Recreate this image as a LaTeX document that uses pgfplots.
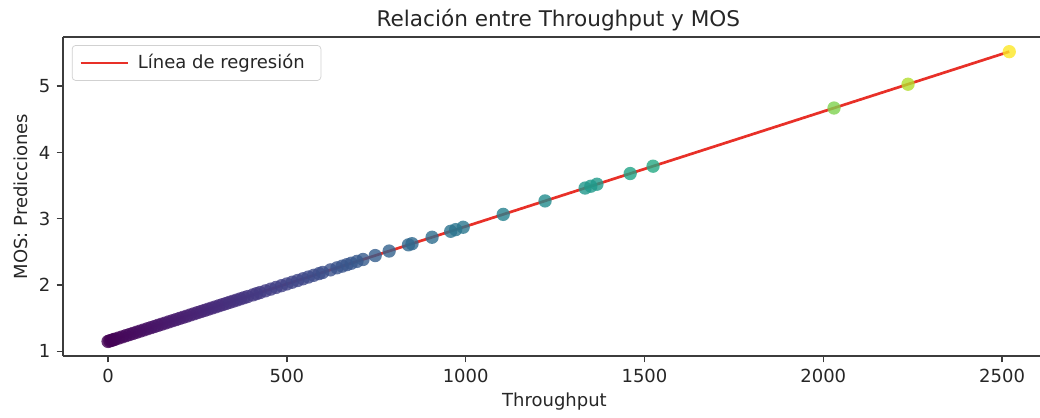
\documentclass[border=0pt]{standalone}
\usepackage{fontspec}
\setmainfont{DejaVu Sans}
\usepackage{pgfplots}
\pgfplotsset{compat=1.18}
\definecolor{regred}{RGB}{232,48,40}
\definecolor{spine}{RGB}{60,60,60}
\pgfplotsset{regleg/.style={legend image code/.code={\draw[##1] (-2pt,0pt) -- (24pt,0pt);}}}

\begin{document}
\begin{tikzpicture}
\begin{axis}[
  at={(0,0)}, anchor=south west,
  scale only axis, width=542.8pt, height=177.2pt,
  xmin=-126, xmax=2606, ymin=0.93, ymax=5.74,
  axis x line*=box, axis y line*=left,
  axis line style={spine, line width=0.8pt},
  tick pos=left, tick align=outside,
  major tick length=3.5pt,
  every tick/.style={spine, line width=0.8pt},
  xtick={0,500,1000,1500,2000,2500},
  ytick={1,2,3,4,5},
  /pgf/number format/assume math mode=true,
  /pgf/number format/set thousands separator={},
  tick label style={font=\fontsize{10}{12}\selectfont, text=black!85},
  xlabel={Throughput}, ylabel={MOS: Predicciones},
  label style={font=\fontsize{10}{12}\selectfont, text=black!85},
  xlabel style={at={(axis description cs:0.503,0)}, anchor=north, yshift=-17pt},
  ylabel style={at={(axis description cs:0,0.5)}, anchor=south, yshift=16pt},
  title={Relación entre Throughput y MOS},
  title style={at={(axis description cs:0.507,1)}, anchor=south, yshift=-6pt,
    font=\fontsize{12}{14}\selectfont, text=black!85},
  colormap name=viridis,
  legend style={at={(axis description cs:0.009,0.975)}, anchor=north west,
    draw=black!18, rounded corners=2pt, fill=white, fill opacity=0.8, text opacity=1,
    font=\fontsize{10}{12}\selectfont, text=black!85,
    inner xsep=4pt, inner ysep=3pt,
    nodes={inner xsep=5pt}},
  legend cell align=left,
]
\addplot[scatter, only marks, mark=*, mark size=3.7pt, point meta=y,
  scatter/use mapped color={draw opacity=0, fill=mapped color},
  fill opacity=0.8, forget plot]
  coordinates {
  (0,1.150) (5,1.159) (10,1.167) (15,1.176) (20,1.185) (30,1.202) (40,1.219)
  (50,1.237) (60,1.254) (70,1.271) (80,1.289) (90,1.306) (100,1.323) (110,1.341)
  (120,1.358) (130,1.375) (140,1.393) (150,1.410) (160,1.427) (170,1.445)
  (180,1.462) (190,1.479) (200,1.497) (210,1.514) (220,1.531) (230,1.549)
  (240,1.566) (250,1.584) (260,1.601) (270,1.618) (280,1.636) (290,1.653)
  (300,1.670) (310,1.688) (320,1.705) (330,1.722) (340,1.740) (350,1.757)
  (360,1.774) (370,1.792) (380,1.809) (390,1.826)
  (405,1.852) (415,1.870) (425,1.887) (440,1.913) (455,1.939) (470,1.965)
  (485,1.991) (500,2.017) (515,2.043) (530,2.069) (545,2.095) (560,2.121)
  (575,2.147) (590,2.173) (600,2.190)
  (622,2.229) (640,2.260) (655,2.286) (668,2.308) (680,2.329) (696,2.357)
  (713,2.386) (747,2.445) (786,2.513) (840,2.607) (850,2.624) (906,2.721)
  (958,2.811) (972,2.836) (993,2.872) (1105,3.066) (1222,3.269)
  (1334,3.463) (1350,3.491) (1367,3.521) (1460,3.682) (1524,3.793)
  (2030,4.670) (2237,5.029) (2520,5.520)
  };
\addplot[regred, line width=1.5pt, regleg]
  coordinates {(0,1.150) (2520,5.520)};
\addlegendentry{Línea de regresión}
\end{axis}
\pgfresetboundingbox
\path[use as bounding box] (-35pt,-34.4pt) rectangle (542.8pt,197.8pt);
\end{tikzpicture}
\end{document}
